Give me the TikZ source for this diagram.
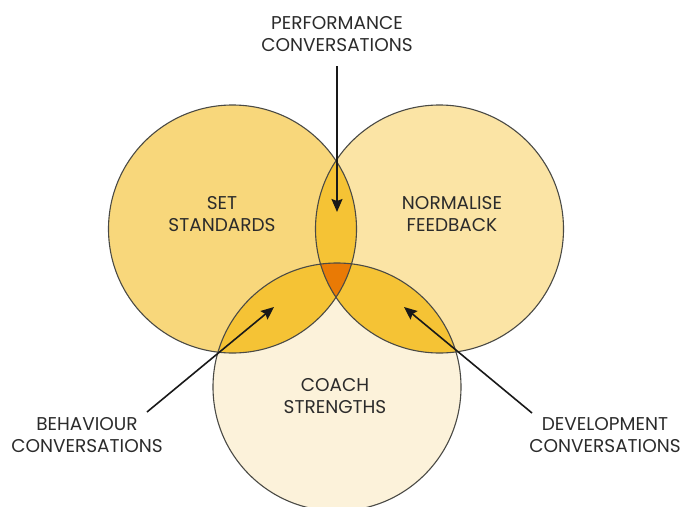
\documentclass[tikz,border=0pt]{standalone}
\usepackage{fontspec}
\setmainfont{Poppins}
\usetikzlibrary{arrows.meta}
\definecolor{leftfill}{HTML}{F8D77B}
\definecolor{rightfill}{HTML}{FBE4A5}
\definecolor{bottomfill}{HTML}{FCF2DA}
\definecolor{lensfill}{HTML}{F5C335}
\definecolor{centerfill}{HTML}{E97A05}
\definecolor{outline}{HTML}{4A4A45}
\definecolor{txt}{HTML}{2B2B2B}
\begin{document}
\begin{tikzpicture}[x=1pt,y=-1pt,
  lbl/.style={align=center,text=txt,font=\fontsize{18.5}{22}\selectfont,inner sep=0pt},
  ring/.style={draw=outline,line width=1.1pt},
  pointer/.style={draw=black!90,line width=1.6pt,-{Stealth[length=13pt,width=11pt,inset=2pt]}}]
\useasboundingbox (0,0) rectangle (685,506);
\coordinate (L) at (232.5,229);
\coordinate (R) at (439.5,229);
\coordinate (B) at (337,387);
\fill[leftfill] (L) circle[radius=124pt];
\fill[rightfill] (R) circle[radius=124pt];
\fill[bottomfill] (B) circle[radius=124pt];
\begin{scope}
  \clip (L) circle[radius=124pt];
  \fill[lensfill] (R) circle[radius=124pt];
  \fill[lensfill] (B) circle[radius=124pt];
\end{scope}
\begin{scope}
  \clip (R) circle[radius=124pt];
  \fill[lensfill] (B) circle[radius=124pt];
\end{scope}
\begin{scope}
  \clip (L) circle[radius=124pt];
  \clip (R) circle[radius=124pt];
  \fill[centerfill] (B) circle[radius=124pt];
\end{scope}
\draw[ring] (L) circle[radius=124pt];
\draw[ring] (R) circle[radius=124pt];
\draw[ring] (B) circle[radius=124pt];

\node[lbl] (ss) at (222,214) {SET\\STANDARDS};
\node[lbl] (nf) at (452,214) {NORMALISE\\FEEDBACK};
\node[lbl] (cs) at (335,396) {COACH\\STRENGTHS};
\node[lbl] (pc) at (337,34) {PERFORMANCE\\CONVERSATIONS};
\node[lbl] (bc) at (87,435) {BEHAVIOUR\\CONVERSATIONS};
\node[lbl] (dc) at (605,435) {DEVELOPMENT\\CONVERSATIONS};

\coordinate (pcs) at (337,66);
\coordinate (pct) at (337,212);
\coordinate (bcs) at (147,412);
\coordinate (bct) at (274,307);
\coordinate (dcs) at (532,413);
\coordinate (dct) at (404,307);
\draw[pointer] (pcs) -- (pct);
\draw[pointer] (bcs) -- (bct);
\draw[pointer] (dcs) -- (dct);
\end{tikzpicture}
\end{document}
